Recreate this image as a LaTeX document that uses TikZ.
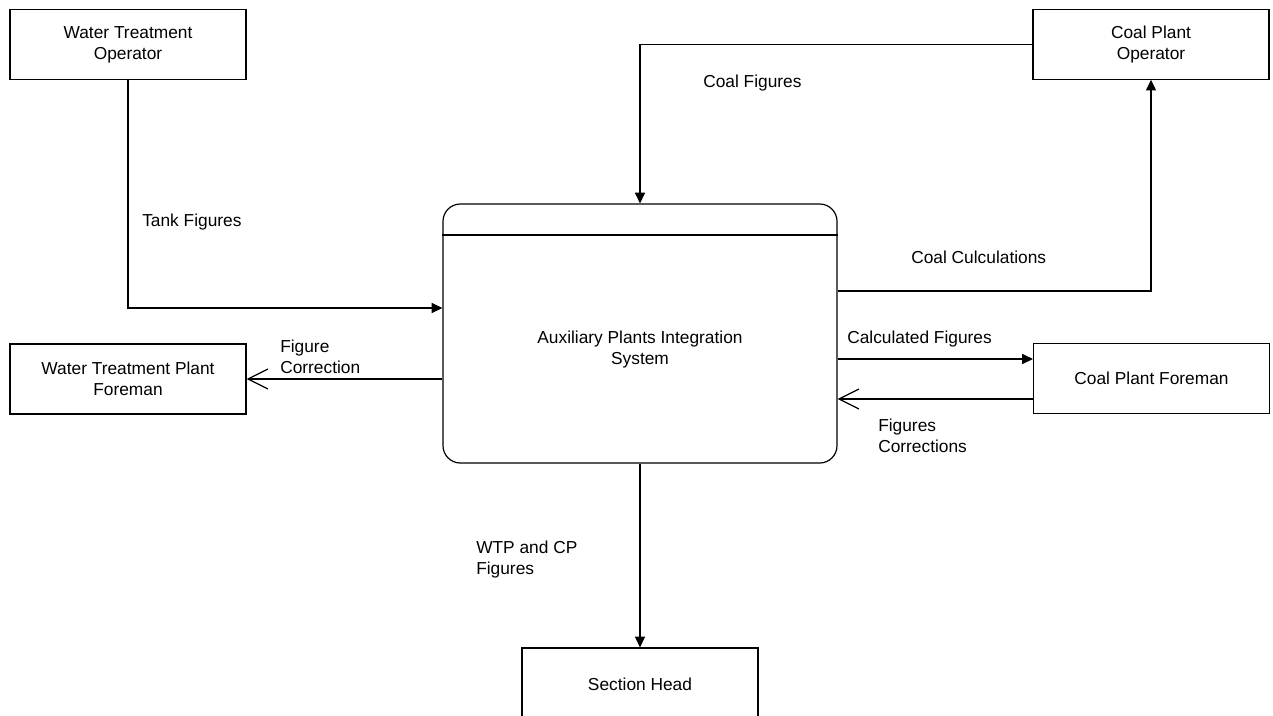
\documentclass[tikz,border=0pt]{standalone}
\usepackage{fontspec}
\setmainfont{Liberation Sans}
\usetikzlibrary{arrows.meta,calc}
\begin{document}
\begin{tikzpicture}[x=0.75pt,y=-0.75pt,
  every node/.style={font=\fontsize{13}{15.75}\selectfont},
  entity/.style={draw,line width=0.9pt,minimum width=177pt,minimum height=52pt,align=center,inner sep=0pt},
  process/.style={draw,line width=0.9pt,rounded corners=13pt,minimum width=295.5pt,minimum height=194.25pt,inner sep=0pt},
  flow/.style={line width=0.9pt},
  farrow/.style={flow,-{Triangle[length=8pt,width=7.5pt]}},
  oarrow/.style={flow,-{Straight Barb[length=15pt,width=15pt,line width=0.9pt]}},
  lbl/.style={anchor=west,align=left,inner sep=0pt}]
\useasboundingbox (0,0) rectangle (1273,715);
\clip (0,0) rectangle (1273,715);

% external entities
\node[entity] (wto) at (128,44.5) {Water Treatment\\Operator};
\node[entity] (cpo) at (1151,44.5) {Coal Plant\\Operator};
\node[entity,minimum height=52.5pt] (wtpf) at (128,379) {Water Treatment Plant\\Foreman};
\node[entity] (cpf) at (1151.5,378.5) {Coal Plant Foreman};
\node[entity,minimum height=54pt] (sh) at (640,684) {Section Head};

% central process
\node[process] (main) at (640,333.5) {};
\node (ptext) at (640,350) [align=center] {Auxiliary Plants Integration\\System};
\coordinate (ydiv) at (0,235);
\draw[flow] (main.west |- ydiv) -- (main.east |- ydiv);

% flow levels
\coordinate (ytank) at (0,308);
\coordinate (ycalc) at (0,291);
\coordinate (ycf) at (0,359);
\coordinate (yfc) at (0,399);

% data flows
\draw[farrow] (wto.south) |- (main.west |- ytank);
\draw[farrow] (cpo.west) -| (main.north);
\draw[farrow] (main.east |- ycalc) -| (cpo.south);
\draw[farrow] (main.east |- ycf) -- (cpf.west |- ycf);
\draw[oarrow] (cpf.west |- yfc) -- (main.east |- yfc);
\draw[oarrow] (main.west |- wtpf.east) -- (wtpf.east);
\draw[farrow] (main.south) -- (sh.north);

% flow labels
\node[lbl] (ltank) at (142,222) {Tank Figures};
\node[lbl] (lcoal) at (703,83) {Coal Figures};
\node[lbl] (lcalc) at (911,257) {Coal Culculations};
\node[lbl] (lcf) at (847,339) {Calculated Figures};
\node[lbl] (lfc) at (878,436) {Figures\\Corrections};
\node[lbl] (lfig) at (280,357) {Figure\\Correction};
\node[lbl] (lwtp) at (476,560) {WTP and CP\\Figures};
\end{tikzpicture}
\end{document}
